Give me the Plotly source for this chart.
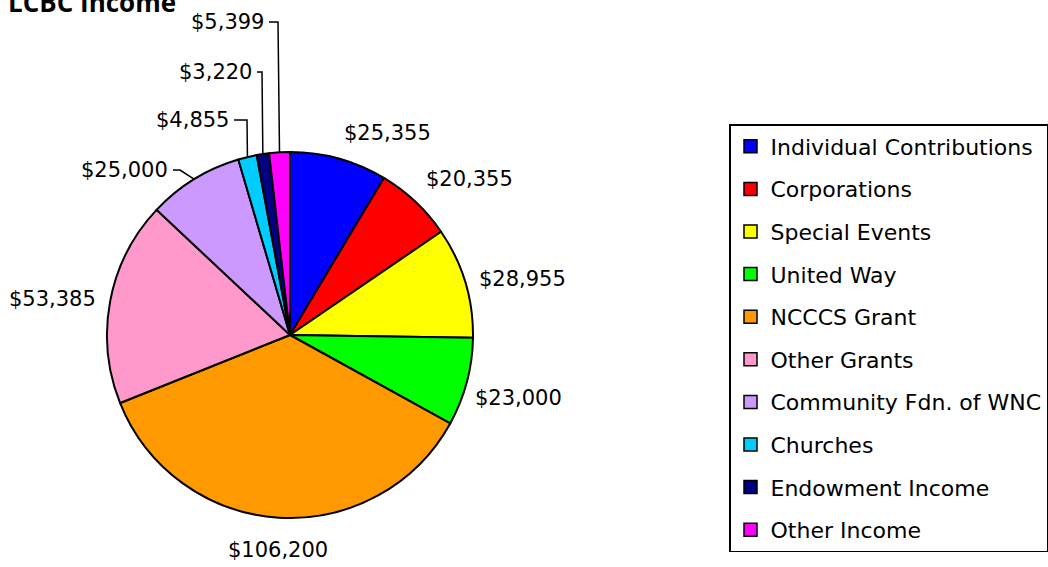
import math
import plotly.graph_objects as go

# ---- data ----
categories = ["Individual Contributions", "Corporations", "Special Events", "United Way",
              "NCCCS Grant", "Other Grants", "Community Fdn. of WNC", "Churches",
              "Endowment Income", "Other Income"]
values = [25355, 20355, 28955, 23000, 106200, 53385, 25000, 4855, 3220, 5399]
colors = ["#0000FF", "#FF0000", "#FFFF00", "#00FF00", "#FF9900", "#FF99CC",
          "#CC99FF", "#00CCFF", "#000080", "#FF00FF"]
title_text = "LCBC Income"

# ---- layout / style ----
W, H = 1048, 567
CX, CY, R = 290, 335, 183            # pie centre and radius in page pixels
LABEL_FONT = dict(family="DejaVu Sans", size=21, color="black")
# labels moved away from their slice with a leader line:
# index -> (label right edge px, label centre y px, elbow x px)
leader_labels = {6: (170, 170, 180), 7: (231, 120, 247), 8: (254, 72, 262), 9: (266, 22, 278)}


def fx(px):
    return px / W


def fy(py):
    return 1 - py / H


fig = go.Figure()
fig.add_trace(go.Pie(
    labels=categories, values=values, sort=False, direction="clockwise", rotation=0,
    marker=dict(colors=colors, line=dict(color="black", width=2)),
    textinfo="none", hoverinfo="label+value", showlegend=False,
    domain=dict(x=[fx(CX - R), fx(CX + R)], y=[fy(CY + R), fy(CY - R)]),
))

# legend entries (one group per category so spacing can match)
for i, (c, col) in enumerate(zip(categories, colors)):
    fig.add_trace(go.Scatter(
        x=[None], y=[None], mode="markers", name=c, legendgroup=f"g{i}",
        marker=dict(symbol="square", size=13, color=col, line=dict(color="black", width=1.5)),
    ))

annotations = []
shapes = []
total = sum(values)
cum = 0
for i, v in enumerate(values):
    mid = (cum + v / 2) / total * 2 * math.pi
    cum += v
    s, c = math.sin(mid), math.cos(mid)
    ex, ey = CX + R * s, CY - R * c
    text = "${:,}".format(v)
    if i in leader_labels:
        rx, ly, elx = leader_labels[i]
        annotations.append(dict(x=fx(rx), y=fy(ly), xref="paper", yref="paper", text=text,
                                showarrow=False, xanchor="right", yanchor="middle", font=LABEL_FONT))
        shapes.append(dict(type="path", xref="paper", yref="paper",
                           path=f"M {fx(rx + 3)} {fy(ly)} L {fx(elx)} {fy(ly)} L {fx(ex)} {fy(ey)}",
                           line=dict(color="black", width=1.5)))
        continue
    d = 12 if c >= 0 else 6 + 12 * c * c
    ax, ay = CX + (R + d) * s, CY - (R + d) * c
    xa = "left" if s > 0.1 else ("right" if s < -0.1 else "center")
    ya = "bottom" if c > 0.3 else ("top" if c < -0.2 else "middle")
    annotations.append(dict(x=fx(ax), y=fy(ay), xref="paper", yref="paper", text=text,
                            showarrow=False, xanchor=xa, yanchor=ya, font=LABEL_FONT))

annotations.append(dict(x=fx(6), y=fy(2), xref="paper", yref="paper", text=f"<b>{title_text}</b>",
                        showarrow=False, xanchor="left", yanchor="middle",
                        font=dict(family="Open Sans", size=26, color="black")))

fig.update_layout(
    width=W, height=H, margin=dict(l=0, r=0, t=0, b=0),
    paper_bgcolor="white", plot_bgcolor="white",
    xaxis=dict(visible=False), yaxis=dict(visible=False),
    annotations=annotations, shapes=shapes,
    legend=dict(x=fx(729), y=fy(124), xanchor="left", yanchor="top",
                bordercolor="black", borderwidth=1.5, bgcolor="white",
                font=dict(family="DejaVu Sans", size=22, color="black"),
                tracegroupgap=11, traceorder="grouped", itemsizing="trace"),
)

fig.write_html("out.html", config={"displayModeBar": False},
               post_script="document.body.style.margin='0';")
